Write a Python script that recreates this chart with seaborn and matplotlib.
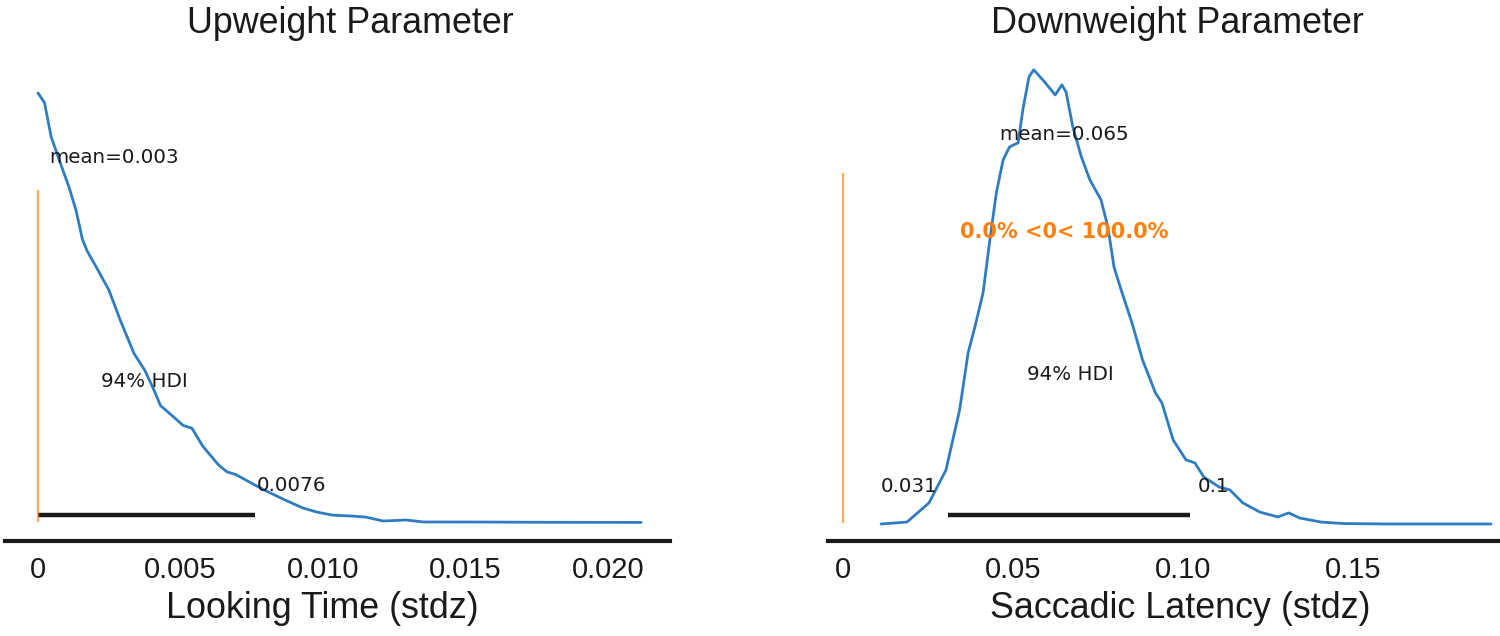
import numpy as np
import pandas as pd
import matplotlib
matplotlib.use("Agg")
import matplotlib.pyplot as plt
import seaborn as sns
from matplotlib.ticker import FixedLocator, FixedFormatter

# ---------------- data ----------------
titles = ["Upweight Parameter", "Downweight Parameter"]
xlabels = ["Looking Time (stdz)", "Saccadic Latency (stdz)"]

up_x = [0.0, 0.00023, 0.00046, 0.00070, 0.00109, 0.00133, 0.00156, 0.00172,
        0.00211, 0.00249, 0.00288, 0.00337, 0.00375, 0.00407, 0.00430, 0.00470,
        0.00509, 0.00540, 0.00579, 0.00633, 0.00663, 0.00695, 0.00758, 0.00805,
        0.00867, 0.00930, 0.00977, 0.01032, 0.01102, 0.01149, 0.01211, 0.01291,
        0.01353, 0.01432, 0.01586, 0.01744, 0.01902, 0.02116]
up_density = [305, 298, 274, 260, 238, 222, 201, 193,
              179, 165, 144, 120, 108, 94, 83, 76,
              69, 67, 54, 41, 36, 34, 27, 22,
              16, 10.3, 7.5, 5.3, 4.6, 3.9, 1.1, 1.8,
              0.4, 0.4, 0.35, 0.2, 0.15, 0.1]

down_x = [0.0112, 0.0188, 0.0253, 0.0303, 0.0343, 0.0368, 0.0388, 0.0412,
          0.0432, 0.0451, 0.0471, 0.0490, 0.0515, 0.0529, 0.0547, 0.0561,
          0.0593, 0.0624, 0.0644, 0.0656, 0.0676, 0.0701, 0.0726, 0.0759,
          0.0779, 0.0797, 0.0818, 0.0850, 0.0881, 0.0919, 0.0938, 0.0971,
          0.1009, 0.1035, 0.1061, 0.1106, 0.1138, 0.1176, 0.1226, 0.1279,
          0.1311, 0.1343, 0.1406, 0.1471, 0.1600, 0.1906]
down_density = [0.0, 0.09, 0.99, 2.54, 5.36, 8.04, 9.26, 10.86,
                13.35, 15.56, 17.11, 17.72, 17.91, 19.46, 21.01, 21.34,
                20.77, 20.16, 20.63, 20.30, 18.66, 17.25, 16.17, 15.23,
                13.96, 12.08, 11.0, 9.45, 7.71, 6.16, 5.69, 3.95,
                3.01, 2.87, 2.21, 1.74, 1.60, 0.99, 0.56, 0.33,
                0.52, 0.28, 0.09, 0.02, 0.0, 0.0]

means = [0.003, 0.065]
hdi_low = [0.0, 0.031]
hdi_high = [0.0076, 0.102]
hdi_high_labels = ["0.0076", "0.1"]
hdi_low_labels = [None, "0.031"]
ref_val = 0
ref_text = [None, "0.0% <0< 100.0%"]

up_ticks = [0, 0.005, 0.010, 0.015, 0.020]
up_ticklabels = ["0", "0.005", "0.010", "0.015", "0.020"]
down_ticks = [0, 0.05, 0.10, 0.15]
down_ticklabels = ["0", "0.05", "0.10", "0.15"]

# ---------------- style ----------------
sns.set_theme(style="white")
plt.rcParams["font.family"] = ["Liberation Sans", "DejaVu Sans"]

BLUE = "#2f7dc0"
ORANGE = "#ff7f0e"

fig = plt.figure(figsize=(15, 6.36), dpi=100)
ax1 = fig.add_axes([0.00333, 0.14937, 0.44333, 0.75629])
ax2 = fig.add_axes([0.552, 0.14937, 0.448, 0.75629])

panels = [
    dict(ax=ax1, x=up_x, d=up_density, ticks=up_ticks, tl=up_ticklabels,
         xlim=(-0.001158, 0.022175), ylim=(-13.1, 328.4),
         bar_y=5.3, ref_top=236.0, ref_bot=0.3, xlabel_x=0.4774,
         mean_pos=(0.00266, 259.5), hdi_pos=(0.00375, 99.8),
         hi_pos=(0.00891, 26.6), lo_pos=None, ref_pos=None),
    dict(ax=ax2, x=down_x, d=down_density, ticks=down_ticks, tl=down_ticklabels,
         xlim=(-0.00441, 0.19324), ylim=(-0.8, 21.8),
         bar_y=0.42, ref_top=16.5, ref_bot=0.05, xlabel_x=0.5246,
         mean_pos=(0.065, 18.3), hdi_pos=(0.067, 7.0),
         hi_pos=(0.109, 1.74), lo_pos=(0.0194, 1.74), ref_pos=(0.065, 13.7)),
]

for i, p in enumerate(panels):
    ax = p["ax"]
    df = pd.DataFrame({"x": p["x"], "density": p["d"]})
    sns.lineplot(data=df, x="x", y="density", ax=ax, color=BLUE, lw=2.0,
                 sort=False, estimator=None)
    # HDI bar
    ax.plot([hdi_low[i], hdi_high[i]], [p["bar_y"], p["bar_y"]], color="k",
            lw=3.2, solid_capstyle="butt")
    # reference line
    ax.vlines(ref_val, p["ref_bot"], p["ref_top"], color=ORANGE, lw=1.6, alpha=0.65)

    txt_kw = dict(ha="center", va="center", fontsize=14.3, color="#1a1a1a",
                  family="DejaVu Sans")
    ax.text(*p["mean_pos"], f"mean={means[i]:g}", **txt_kw)
    ax.text(*p["hdi_pos"], "94% HDI", **txt_kw)
    ax.text(*p["hi_pos"], hdi_high_labels[i], **txt_kw)
    if p["lo_pos"] is not None:
        ax.text(*p["lo_pos"], hdi_low_labels[i], **txt_kw)
    if p["ref_pos"] is not None:
        ax.text(*p["ref_pos"], ref_text[i], ha="center", va="center",
                fontsize=15, fontweight="bold", color=ORANGE, family="DejaVu Sans")

    ax.set_xlim(*p["xlim"])
    ax.set_ylim(*p["ylim"])
    ax.xaxis.set_major_locator(FixedLocator(p["ticks"]))
    ax.xaxis.set_major_formatter(FixedFormatter(p["tl"]))
    ax.tick_params(axis="x", length=0, pad=10.5, labelsize=21, colors="k",
                   labelfontfamily="Liberation Sans")
    ax.set_yticks([])
    ax.set_ylabel("")
    ax.set_xlabel(xlabels[i], fontsize=25.8, labelpad=5.5, color="k",
                  x=p["xlabel_x"])
    ax.set_title(titles[i], fontsize=25.8, pad=19.4, x=0.52, color="k")
    for s in ["top", "left", "right"]:
        ax.spines[s].set_visible(False)
    ax.spines["bottom"].set_color("k")
    ax.spines["bottom"].set_linewidth(3)
    ax.patch.set_alpha(0)

fig.savefig("out.png", dpi=100, facecolor="white")
